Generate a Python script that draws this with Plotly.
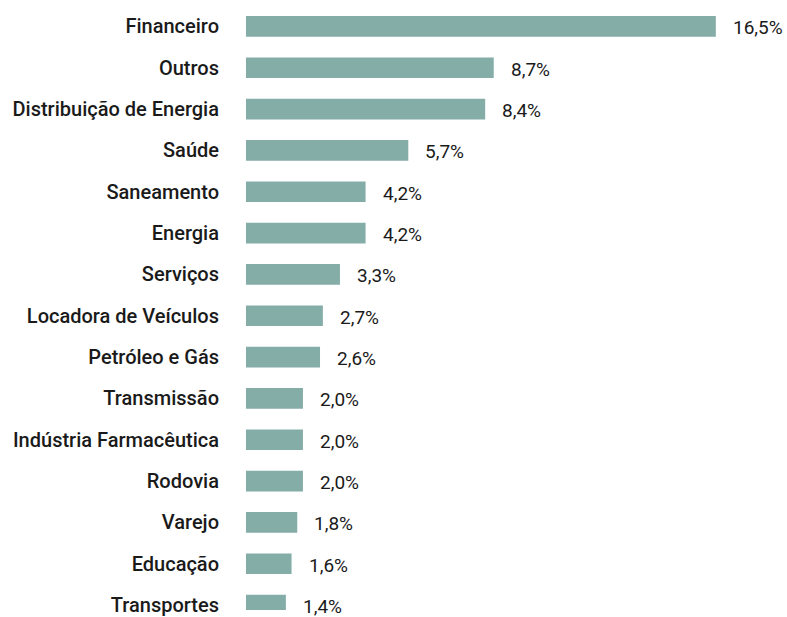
import plotly.graph_objects as go

categories = ["Financeiro", "Outros", "Distribuição de Energia", "Saúde", "Saneamento",
              "Energia", "Serviços", "Locadora de Veículos", "Petróleo e Gás", "Transmissão",
              "Indústria Farmacêutica", "Rodovia", "Varejo", "Educação", "Transportes"]
values = [16.5, 8.7, 8.4, 5.7, 4.2, 4.2, 3.3, 2.7, 2.6, 2.0, 2.0, 2.0, 1.8, 1.6, 1.4]
labels = [f"{v:.1f}%".replace(".", ",") for v in values]

fig = go.Figure(go.Bar(
    x=values, y=categories, orientation="h",
    marker=dict(color="#84ada8", line=dict(width=0)),
    width=0.5, hoverinfo="skip",
))

for c, v, t in zip(categories, values, labels):
    fig.add_annotation(x=v, y=c, text=t, showarrow=False, xanchor="left",
                       xshift=15, yshift=-1.5,
                       font=dict(family="Roboto", size=19, color="#1a1a1a"))

fig.update_layout(
    width=787, height=617,
    margin=dict(l=246, r=0, t=0, b=0),
    paper_bgcolor="white", plot_bgcolor="white",
    showlegend=False,
    xaxis=dict(range=[0, 19.0], visible=False, fixedrange=True),
    yaxis=dict(range=[14.12, -0.64], showgrid=False, zeroline=False, showline=False,
               ticks="outside", ticklen=22, tickcolor="rgba(0,0,0,0)",
               tickfont=dict(family="Roboto", size=20, color="#1a1a1a", weight=500)),
)
fig.write_html("out.html")
